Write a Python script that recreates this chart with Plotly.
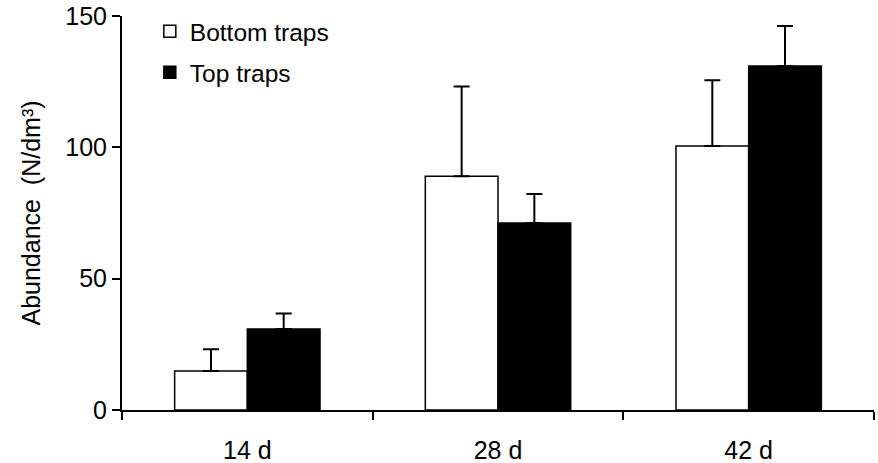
import plotly.graph_objects as go

categories = ["14 d", "28 d", "42 d"]
bottom_values = [14.85, 89.0, 100.5]
bottom_errors = [8.25, 34.2, 25.0]
top_values = [30.8, 71.2, 131.0]
top_errors = [5.9, 11.0, 15.2]
y_ticks = [0, 50, 100, 150]

FONT = "Arial, 'Liberation Sans', sans-serif"

fig = go.Figure()
fig.add_trace(go.Bar(
    name="Bottom traps", x=categories, y=bottom_values,
    marker=dict(color="white", line=dict(color="black", width=1.5)),
    error_y=dict(type="data", symmetric=False, array=bottom_errors,
                 arrayminus=[0] * len(bottom_errors),
                 color="black", thickness=2, width=8),
    legendgroup="a",
))
fig.add_trace(go.Bar(
    name="Top traps", x=categories, y=top_values,
    marker=dict(color="black", line=dict(color="black", width=1.5)),
    error_y=dict(type="data", symmetric=False, array=top_errors,
                 arrayminus=[0] * len(top_errors),
                 color="black", thickness=2, width=8),
    legendgroup="b",
))

fig.update_layout(
    width=878, height=463,
    margin=dict(l=122, r=4, t=16, b=53, autoexpand=False),
    paper_bgcolor="white", plot_bgcolor="white",
    font=dict(family=FONT, size=25, color="black"),
    barmode="group", bargap=0.42, bargroupgap=0,
    showlegend=True,
    legend=dict(x=0.037, y=1.018, xanchor="left", yanchor="top",
                bgcolor="rgba(0,0,0,0)", traceorder="grouped",
                tracegroupgap=6, font=dict(size=24.5)),
)
fig.update_xaxes(
    showline=True, linecolor="black", linewidth=2,
    ticks="outside", tickson="boundaries", ticklen=8, tickwidth=2,
    tickcolor="black", showgrid=False, zeroline=False,
    ticklabelstandoff=17,
)
fig.update_yaxes(
    range=[0, 150], tickvals=y_ticks, showline=True, linecolor="black",
    linewidth=2, ticks="outside", ticklen=8, tickwidth=2, tickcolor="black",
    showgrid=False, zeroline=False, ticklabelstandoff=0,
    ticklabeloverflow="allow",
    title=dict(text="Abundance  (N/dm³)", font=dict(size=25), standoff=18),
)

fig.write_html("out.html", config={"displayModeBar": False},
               post_script="document.body.style.margin='0';")
